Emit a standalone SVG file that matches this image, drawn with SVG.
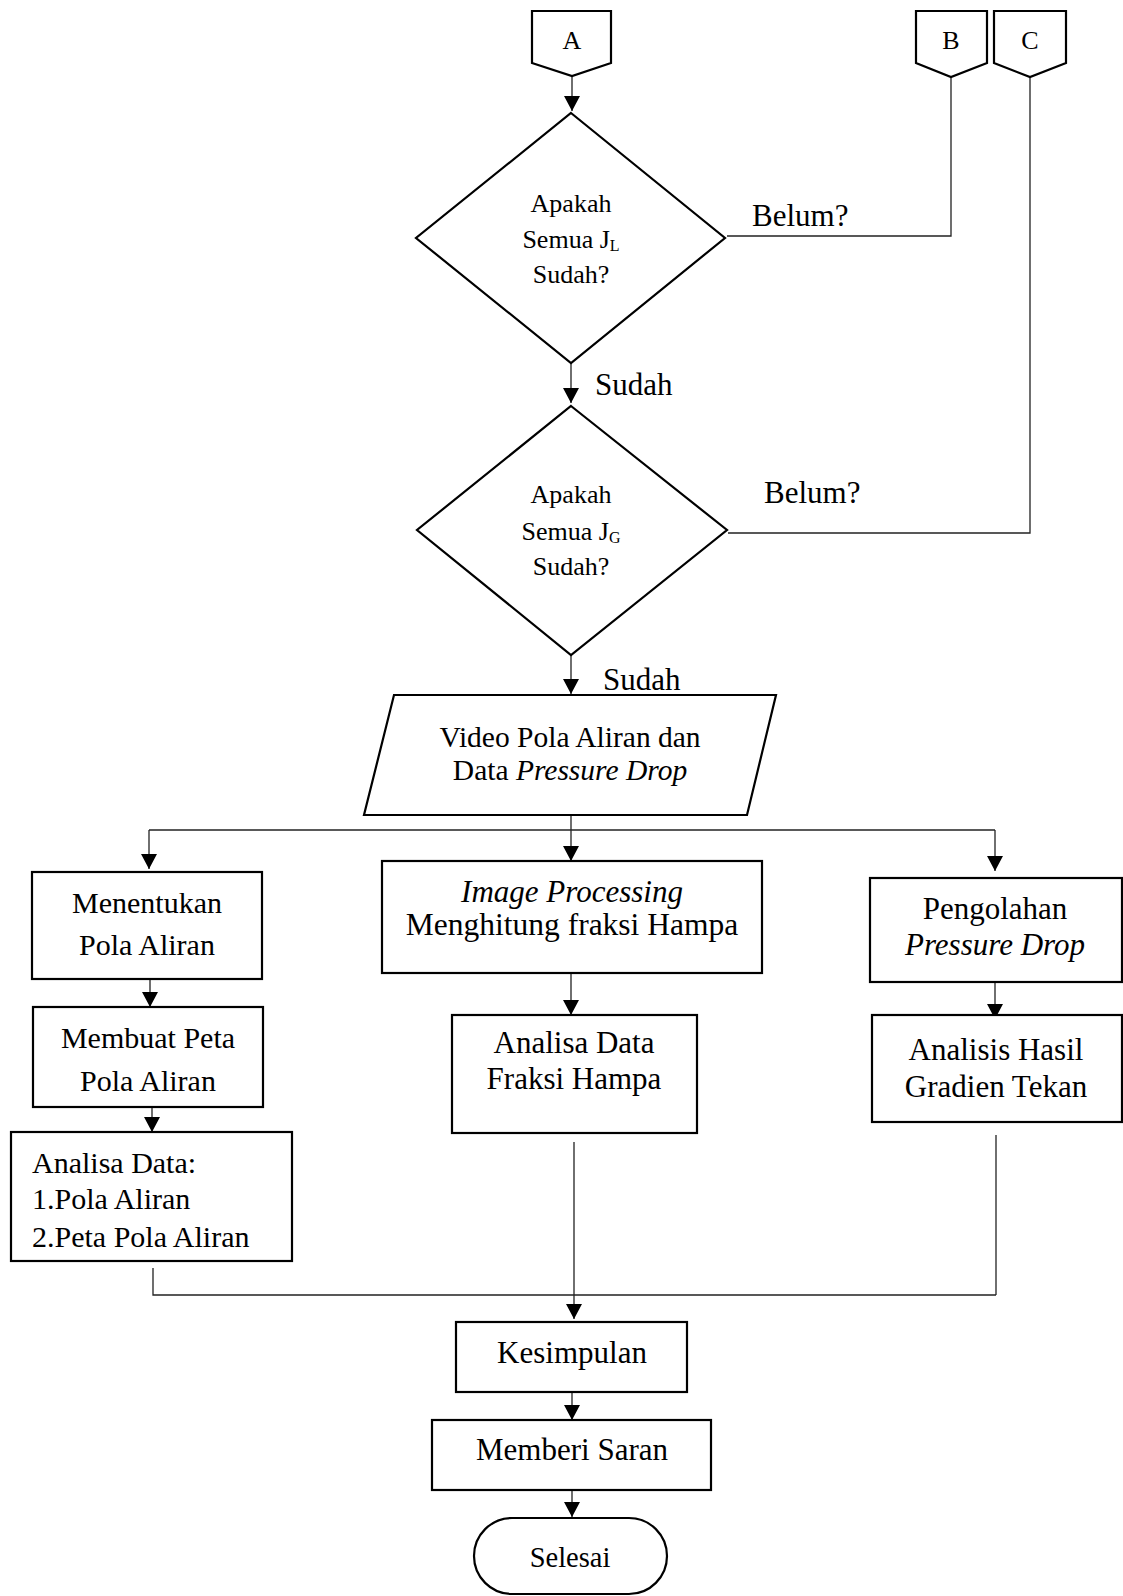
<svg xmlns="http://www.w3.org/2000/svg" width="1123" height="1596" viewBox="0 0 1123 1596">
<defs>
<marker id="ah" markerUnits="userSpaceOnUse" markerWidth="16" markerHeight="16" refX="15" refY="8" orient="auto"><path d="M0,0 L15,8 L0,16 z" fill="#000"/></marker>
<style>
.sh{fill:#fff;stroke:#000;stroke-width:2.2}
.ln{fill:none;stroke:#222;stroke-width:1.3}
.ar{fill:none;stroke:#222;stroke-width:1.3;marker-end:url(#ah)}
text{font-family:"Liberation Serif","Times New Roman",serif;fill:#000}
.c{text-anchor:middle}
.t{font-size:31px}
.d{font-size:26px}
.i{font-style:italic}
</style>
</defs>
<rect width="1123" height="1596" fill="#fff"/>
<g id="connectors">
<line class="ar" x1="572" y1="76" x2="572" y2="111"/>
<line class="ar" x1="571" y1="363" x2="571" y2="403"/>
<line class="ar" x1="571" y1="655" x2="571" y2="694"/>
<polyline class="ln" points="951,77 951,236 727,236"/>
<polyline class="ln" points="1030,77 1030,533 728,533"/>
<line class="ln" x1="571" y1="815" x2="571" y2="830"/>
<line class="ln" x1="149" y1="830" x2="995" y2="830"/>
<line class="ar" x1="149" y1="830" x2="149" y2="869"/>
<line class="ar" x1="571" y1="830" x2="571" y2="861"/>
<line class="ar" x1="995" y1="830" x2="995" y2="871"/>
<line class="ar" x1="150" y1="979" x2="150" y2="1007"/>
<line class="ar" x1="152" y1="1107" x2="152" y2="1132"/>
<line class="ar" x1="571" y1="973" x2="571" y2="1015"/>
<line class="ar" x1="995" y1="982" x2="995" y2="1019"/>
<polyline class="ln" points="153,1268 153,1295 996,1295"/>
<line class="ln" x1="996" y1="1135" x2="996" y2="1295"/>
<line class="ar" x1="574" y1="1142" x2="574" y2="1319"/>
<line class="ar" x1="572" y1="1392" x2="572" y2="1420"/>
<line class="ar" x1="572" y1="1490" x2="572" y2="1517"/>
</g>
<g id="A"><polygon class="sh" points="532,11 611,11 611,63 572,76 532,63"/><text class="c d" x="572" y="49">A</text></g>
<g id="B"><polygon class="sh" points="916,11 987,11 987,63 951,77 916,63"/><text class="c d" x="951" y="49">B</text></g>
<g id="C"><polygon class="sh" points="994,11 1066,11 1066,63 1030,77 994,63"/><text class="c d" x="1030" y="49">C</text></g>
<g id="dec1"><polygon class="sh" points="571,113 725,238 571,363 416,238"/>
<text class="c d" x="571" y="212">Apakah</text>
<text class="c d" x="571" y="248">Semua J<tspan font-size="16" dy="3">L</tspan></text>
<text class="c d" x="571" y="283">Sudah?</text></g>
<text class="t" x="752" y="226" font-size="32">Belum?</text>
<text class="t" x="595" y="395">Sudah</text>
<g id="dec2"><polygon class="sh" points="571,406 727,530 571,655 417,530"/>
<text class="c d" x="571" y="503">Apakah</text>
<text class="c d" x="571" y="540">Semua J<tspan font-size="16" dy="3">G</tspan></text>
<text class="c d" x="571" y="575">Sudah?</text></g>
<text class="t" x="764" y="503">Belum?</text>
<text class="t" x="603" y="690">Sudah</text>
<g id="data"><polygon class="sh" points="394,695 776,695 747,815 364,815"/>
<text class="c" x="570" y="747" font-size="29.5">Video Pola Aliran dan</text>
<text class="c" x="570" y="780" font-size="29.5">Data <tspan class="i">Pressure Drop</tspan></text></g>
<g id="menentukan"><rect class="sh" x="32" y="872" width="230" height="107"/>
<text class="c" x="147" y="913" font-size="30">Menentukan</text>
<text class="c" x="147" y="955" font-size="30">Pola Aliran</text></g>
<g id="membuat"><rect class="sh" x="33" y="1007" width="230" height="100"/>
<text class="c" x="148" y="1048" font-size="30">Membuat Peta</text>
<text class="c" x="148" y="1091" font-size="30">Pola Aliran</text></g>
<g id="analisa1"><rect class="sh" x="11" y="1132" width="281" height="129"/>
<text x="32" y="1173" font-size="30">Analisa Data:</text>
<text x="32" y="1209" font-size="30">1.Pola Aliran</text>
<text x="32" y="1247" font-size="30">2.Peta Pola Aliran</text></g>
<g id="image"><rect class="sh" x="382" y="861" width="380" height="112"/>
<text class="c t i" x="572" y="902">Image Processing</text>
<text class="c" x="572" y="935" font-size="31.5">Menghitung fraksi Hampa</text></g>
<g id="analisa2"><rect class="sh" x="452" y="1015" width="245" height="118"/>
<text class="c t" x="574" y="1053">Analisa Data</text>
<text class="c t" x="574" y="1089">Fraksi Hampa</text></g>
<g id="pengolahan"><rect class="sh" x="870" y="878" width="252" height="104"/>
<text class="c t" x="995" y="919">Pengolahan</text>
<text class="c t i" x="995" y="955">Pressure Drop</text></g>
<g id="analisis"><rect class="sh" x="872" y="1015" width="250" height="107"/>
<text class="c t" x="996" y="1060">Analisis Hasil</text>
<text class="c t" x="996" y="1097">Gradien Tekan</text></g>
<g id="kesimpulan"><rect class="sh" x="456" y="1322" width="231" height="70"/>
<text class="c t" x="572" y="1363">Kesimpulan</text></g>
<g id="saran"><rect class="sh" x="432" y="1420" width="279" height="70"/>
<text class="c t" x="572" y="1460">Memberi Saran</text></g>
<g id="selesai"><rect class="sh" x="474" y="1518" width="193" height="76" rx="38"/>
<text class="c" x="570" y="1567" font-size="28.5">Selesai</text></g>
</svg>
